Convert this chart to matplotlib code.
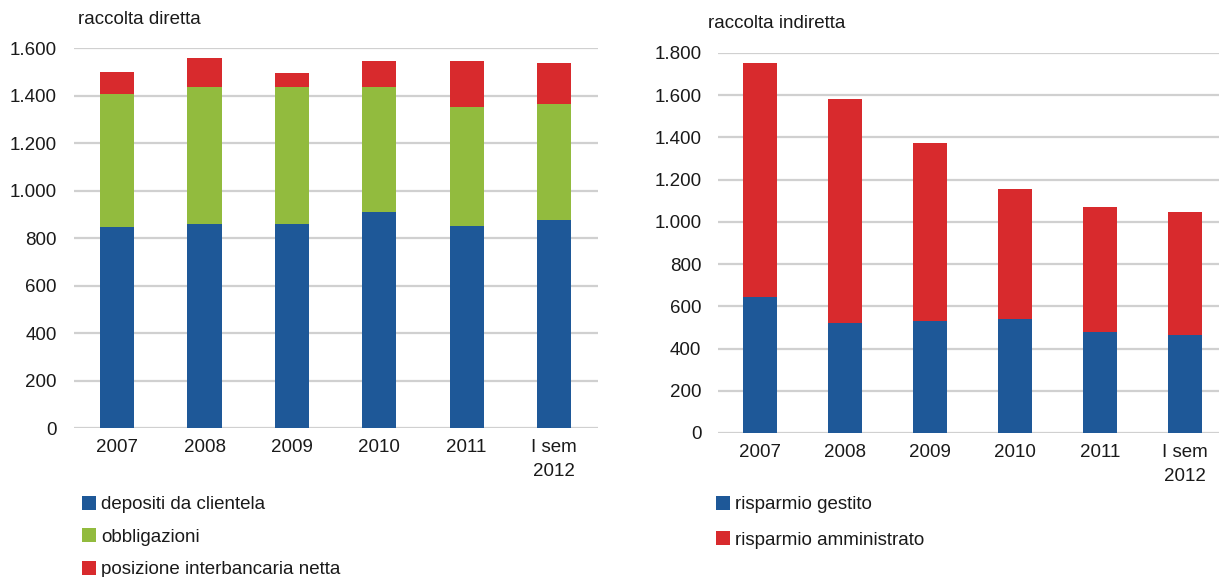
import numpy as np
import matplotlib
matplotlib.use("Agg")
import matplotlib.pyplot as plt

plt.rcParams['font.family'] = ['Liberation Sans', 'DejaVu Sans']

# categories
anni = ["2007", "2008", "2009", "2010", "2011", "I sem\n2012"]

# raccolta diretta (components, stacked)
depositi = [846, 858, 858, 908, 850, 874]
obbligazioni = [562, 579, 579, 529, 502, 490]
interbancaria = [89, 120, 59, 110, 195, 172]

# raccolta indiretta
gestito = [645, 519, 531, 538, 479, 462]
amministrato = [1108, 1063, 843, 616, 593, 584]

BLUE = "#1e5898"
GREEN = "#92bb3e"
RED = "#d82a2d"
GRID = "#d0d0d0"
TXT = "#1a1a1a"
FS = 13.5

fig = plt.figure(figsize=(12.19, 5.77), dpi=100)

def style(ax, ymax, step):
    ax.set_ylim(0, ymax)
    ax.set_yticks(np.arange(0, ymax + 1, step))
    ax.set_yticklabels([f"{v:,}".replace(",", ".") for v in range(0, ymax + 1, step)])
    ax.grid(axis="y", color=GRID, linewidth=1.6)
    ax.set_axisbelow(True)
    for s in ax.spines.values():
        s.set_visible(False)
    ax.tick_params(length=0, labelsize=FS, colors=TXT)
    ax.tick_params(axis="y", pad=12)
    ax.tick_params(axis="x", pad=8)

x = np.arange(len(anni))

# left chart
ax1 = fig.add_axes([0.0603, 0.2582, 0.4299, 0.6586])
ax1.bar(x, depositi, width=0.39, color=BLUE, label="depositi da clientela")
ax1.bar(x, obbligazioni, width=0.39, bottom=depositi, color=GREEN, label="obbligazioni")
ax1.bar(x, interbancaria, width=0.39, bottom=np.add(depositi, obbligazioni), color=RED,
        label="posizione interbancaria netta")
style(ax1, 1600, 200)
ax1.set_xlim(-0.5, 5.5)
ax1.set_xticks(x)
ax1.set_xticklabels(anni, va="top", linespacing=1.55)
fig.text(78 / 1219, 1 - 20 / 577, "raccolta diretta", fontsize=FS, color=TXT, va="center")
ax1.legend(loc="upper left", bbox_to_anchor=(82 / 1219, 1 - 496 / 577),
           bbox_transform=fig.transFigure, frameon=False, fontsize=FS,
           handlelength=0.75, handleheight=0.75, handletextpad=0.25,
           labelspacing=0.8, borderpad=0, borderaxespad=0, labelcolor=TXT)

# right chart
ax2 = fig.add_axes([0.589, 0.2496, 0.411, 0.6586])
ax2.bar(x, gestito, width=0.40, color=BLUE, label="risparmio gestito")
ax2.bar(x, amministrato, width=0.40, bottom=gestito, color=RED, label="risparmio amministrato")
style(ax2, 1800, 200)
ax2.set_xlim(-0.5, 5.4)
ax2.set_xticks(x)
ax2.set_xticklabels(anni, va="top", linespacing=1.55)
fig.text(708 / 1219, 1 - 23 / 577, "raccolta indiretta", fontsize=FS, color=TXT, va="center")
ax2.legend(loc="upper left", bbox_to_anchor=(716 / 1219, 1 - 496 / 577),
           bbox_transform=fig.transFigure, frameon=False, fontsize=FS,
           handlelength=0.75, handleheight=0.75, handletextpad=0.25,
           labelspacing=0.95, borderpad=0, borderaxespad=0, labelcolor=TXT)

fig.savefig("out.png", dpi=100)
